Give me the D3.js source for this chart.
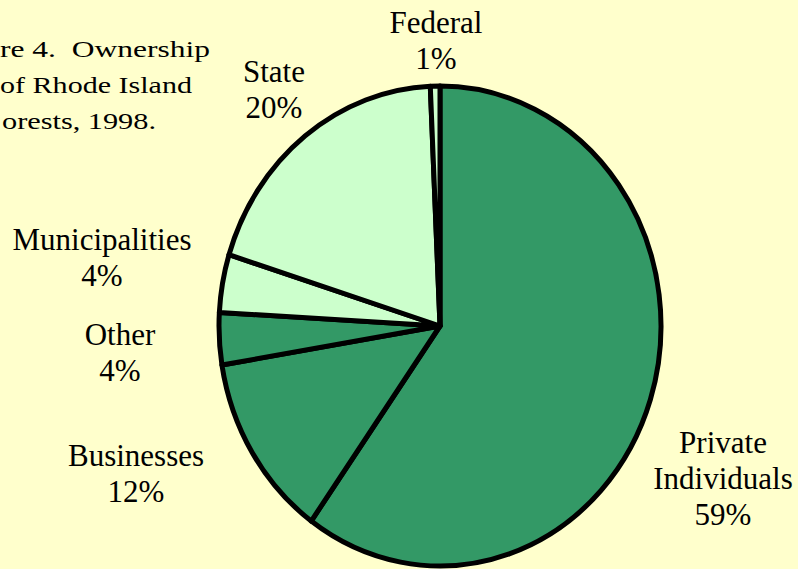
<!DOCTYPE html>
<html>
<head>
<meta charset="utf-8">
<script src="https://cdn.jsdelivr.net/npm/d3@7"></script>
<style>
  html, body { margin: 0; padding: 0; background: #ffffcc; }
  svg { display: block; }
  svg text { font-family: "Times New Roman", "Liberation Serif", Times, serif; fill: #000; }
</style>
</head>
<body>
<div id="app"></div>
<script>
// ownership shares, clockwise from 12 o'clock
const categories = ['Private Individuals', 'Businesses', 'Other', 'Municipalities', 'State', 'Federal']
const shares = [59.9, 12.5, 3.5, 3.9, 19.5, 0.7]
const shareLabels = ['59%', '12%', '4%', '4%', '20%', '1%']
// the title box runs off the left edge; only this much of it shows
const titleLines = ['re 4.  Ownership', 'of Rhode Island', 'orests, 1998.']

const width = 798
const height = 569

const color = d3.scaleOrdinal()
  .domain(categories)
  .range(['#339966', '#339966', '#339966', '#ccffcc', '#ccffcc', '#ccffcc'])

const svg = d3.select('#app')
  .append('svg')
  .attr('width', width)
  .attr('height', height)
  .attr('viewBox', [0, 0, width, height])

svg.append('rect')
  .attr('width', width)
  .attr('height', height)
  .attr('fill', '#ffffcc')

// pie is drawn as a circle and squeezed sideways into an ellipse
const cx = 440
const cy = 326
const ry = 240
const rx = 221

const pie = d3.pie().sort(null).value(d => d)
const arc = d3.arc().innerRadius(0).outerRadius(ry)

const slices = svg.append('g')
  .attr('transform', `translate(${cx},${cy}) scale(${rx / ry},1)`)

slices.selectAll('path')
  .data(pie(shares))
  .join('path')
  .attr('d', arc)
  .attr('fill', (d, i) => color(categories[i]))
  .attr('stroke', '#000')
  .attr('stroke-width', 5)
  .attr('stroke-linejoin', 'round')
  .attr('vector-effect', 'non-scaling-stroke')

// label spots (anchor middle, first baseline)
const labelPos = [
  [723, 453], [136, 466], [120, 345], [102, 250], [274, 82], [436, 33]
]

const labels = svg.append('g')
  .attr('font-size', 31)
  .attr('text-anchor', 'middle')

labels.selectAll('text')
  .data(categories)
  .join('text')
  .attr('x', (d, i) => labelPos[i][0])
  .attr('y', (d, i) => labelPos[i][1])
  .each(function (d, i) {
    const lines = d === 'Private Individuals' ? ['Private', 'Individuals'] : [d]
    lines.push(shareLabels[i])
    d3.select(this).selectAll('tspan')
      .data(lines)
      .join('tspan')
      .attr('x', labelPos[i][0])
      .attr('dy', (t, j) => j === 0 ? 0 : 36)
      .text(t => t)
  })

// title glyphs are stretched sideways in the original, so fit each line to its width
const titleBox = [[0, 210], [0, 192], [2, 156]]
svg.append('g')
  .selectAll('text')
  .data(titleLines)
  .join('text')
  .attr('font-size', 24)
  .style('white-space', 'pre')
  .attr('x', (d, i) => titleBox[i][0])
  .attr('y', (d, i) => 57 + i * 36)
  .attr('textLength', (d, i) => titleBox[i][1] - titleBox[i][0])
  .attr('lengthAdjust', 'spacingAndGlyphs')
  .text(d => d)
</script>
</body>
</html>
